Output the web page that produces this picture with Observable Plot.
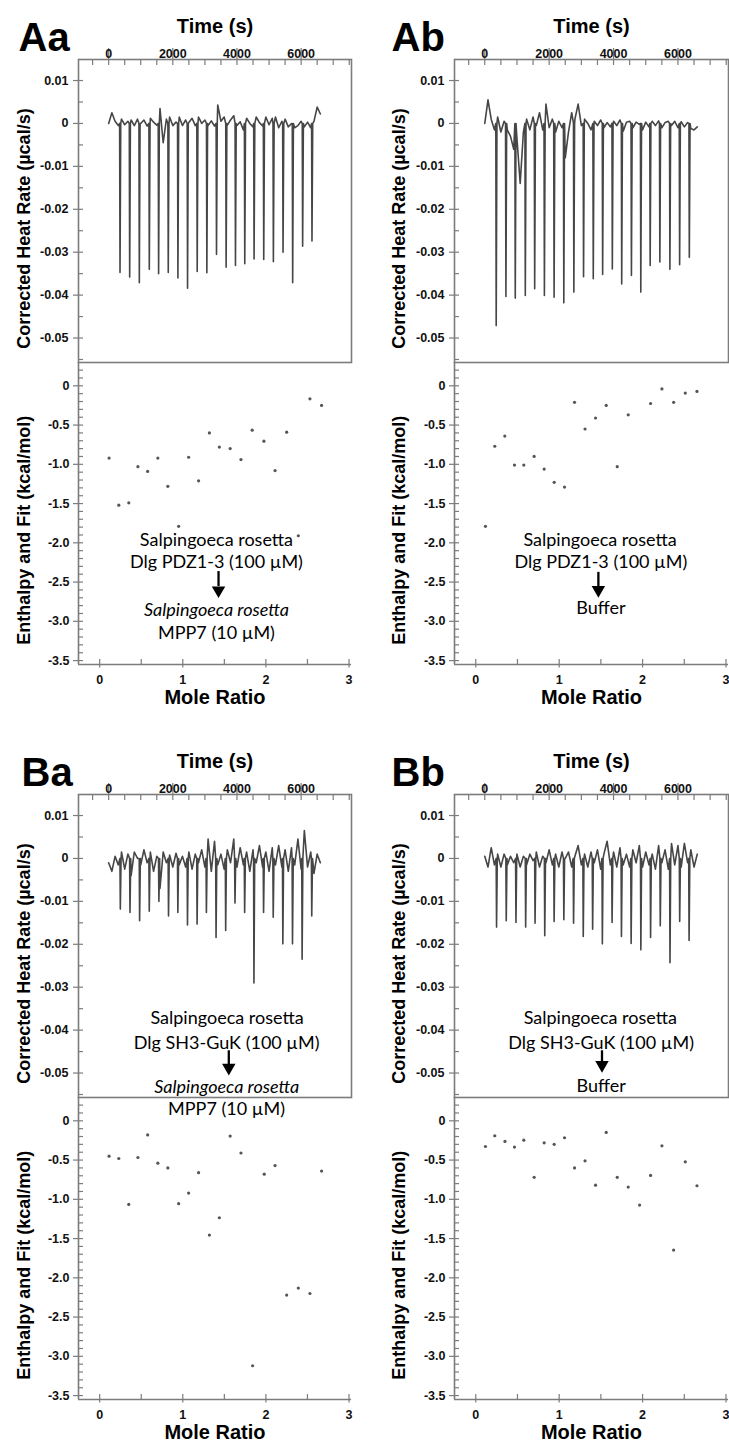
<!DOCTYPE html>
<html><head><meta charset="utf-8">
<script src="https://cdn.jsdelivr.net/npm/d3@7"></script>
<script src="https://cdn.jsdelivr.net/npm/@observablehq/plot@0.6"></script>
<style>
body{margin:0;background:#fff;}
#fig{position:relative;width:729px;height:1443px;overflow:hidden;background:#fff;}
</style></head><body><div id="fig"></div>
<script>
// ---------------- DATA ----------------
const timeTicksMajor = [0, 2000, 4000, 6000];
const timeTicksMinor = [-500,0,500,1000,1500,2000,2500,3000,3500,4000,4500,5000,5500,6000,6500,7000,7500];
const heatTicksMajor = [0.01, 0, -0.01, -0.02, -0.03, -0.04, -0.05];
const heatTicksMinor = [0.01,0.005,0,-0.005,-0.01,-0.015,-0.02,-0.025,-0.03,-0.035,-0.04,-0.045,-0.05,-0.055];
const moleTicksMajor = [0, 1, 2, 3];
const moleTicksMinor = [0, 0.5, 1, 1.5, 2, 2.5, 3];
const dhTicksMajor = [0, -0.5, -1, -1.5, -2, -2.5, -3, -3.5];
const dhTicksMinor = [0.2,0.1,0,-0.1,-0.2,-0.3,-0.4,-0.5,-0.6,-0.7,-0.8,-0.9,-1,-1.1,-1.2,-1.3,-1.4,-1.5,-1.6,-1.7,-1.8,-1.9,-2,-2.1,-2.2,-2.3,-2.4,-2.5,-2.6,-2.7,-2.8,-2.9,-3,-3.1,-3.2,-3.3,-3.4,-3.5];

// raw heat-rate traces: baseline readings every 100 s (x 0.001 µcal/s), injection times (s) and spike minima (µcal/s)
const baseAa = [0,2.5,0.5,-0.5,1,-0.3,0.5,0.8,-0.5,1,0,0.8,-0.6,1.2,0.3,-0.4,3.5,-4.5,1,1.5,-0.5,0.3,1.5,-0.5,0.8,0.2,1.2,-0.5,1.5,0,0.8,-0.5,0.6,-0.6,4.3,0.5,1.5,-0.4,0.8,1.8,-0.5,0.4,-1.5,1.2,0,-0.8,1.5,0.2,-0.6,1.5,-0.3,1.2,1.5,-1,0.5,1,-0.8,0,-1,-0.5,0.5,-0.8,0.3,-1,0.5,3.8,2.2];
const injAa = [342,643,944,1255,1545,1846,2147,2447,2748,3049,3350,3650,3941,4231,4521,4822,5123,5424,5724,6035,6326];
const peakAa = [-0.0347,-0.0358,-0.0371,-0.0340,-0.0350,-0.0347,-0.0360,-0.0384,-0.0345,-0.0348,-0.0305,-0.0335,-0.0331,-0.0327,-0.0316,-0.0317,-0.0322,-0.0300,-0.0371,-0.0286,-0.0274];

const baseAb = [0,5.5,1,-1.5,1.5,-2,0.5,-1.5,-3,-6,-3.5,-14,-2,1,-1.5,1.5,-0.5,2.5,-1.5,4.5,-1,1,-2,0.5,-1,-8,-2,2.5,1,4.5,-0.5,1,0,-1.5,0.5,-0.5,0.8,-1,0.2,-0.8,0.5,-0.5,0.8,-1.8,0.3,0.5,-1,0.3,-0.2,-1.5,0.3,-0.8,0.5,-0.5,0.6,-1,0.2,0.5,-0.5,0.5,-1,0.4,-0.8,0.2,-1.2,-1.5,-0.8];
const injAb = [343,645,935,1247,1538,1840,2141,2443,2755,3056,3358,3649,3950,4241,4543,4834,5125,5426,5738,6040,6341];
const peakAb = [-0.0471,-0.0403,-0.0407,-0.0401,-0.0385,-0.0401,-0.0405,-0.0418,-0.0393,-0.0357,-0.0362,-0.0352,-0.0339,-0.0374,-0.0354,-0.0393,-0.0331,-0.0323,-0.0340,-0.0329,-0.0312];

const baseBa = [-1,-3,0.5,-1.5,1.5,-2.5,1,-4,1.5,0,-1.5,2,-1,1.5,-3,0.5,-7,1.5,-1,0.8,-2,1.2,-1.5,0.5,-2,1.5,-2.5,1,-1,2,-2,4.5,-3,4,-1.5,1,-2.5,2,-1,4.5,-2,2.5,-1.5,1.5,-3,2,-1,3,-2,1.5,-3,2.5,-1.5,3,-2,2,-3,2.5,-1.5,4.5,-2.5,6.5,-2,1.5,-3.5,1,-1];
const injBa = [352,653,953,1254,1554,1854,2145,2445,2745,3035,3336,3636,3926,4227,4517,4817,5118,5418,5719,6019,6319];
const peakBa = [-0.0118,-0.0126,-0.0145,-0.0123,-0.0100,-0.0134,-0.0126,-0.0155,-0.0153,-0.0126,-0.0184,-0.0168,-0.0104,-0.0126,-0.0290,-0.0126,-0.0137,-0.0199,-0.0199,-0.0235,-0.0134];

const baseBb = [0.5,-2,2.5,-1.5,1,-2,1,-1.5,0.5,-1,1,-2,0.5,-1.5,1,-0.5,1.5,-2,0.5,-1,2,-1.5,1,-2,1.5,0,1.5,-2,0.5,3,-1.5,1,-2,1.5,-1,2,-2.5,1,4,-1.5,1.5,-2,2.5,-1.5,1,-2,2,-1,3,-2,1.5,-1.5,1,-2.5,3,-1,2,-2.5,3.5,-1.5,3,-2,3.5,-1,2,-2,1];
const injBb = [354,655,957,1258,1550,1851,2142,2444,2746,3047,3338,3640,3942,4233,4534,4836,5138,5439,5741,6042,6334];
const peakBb = [-0.0160,-0.0145,-0.0149,-0.0160,-0.0151,-0.0180,-0.0147,-0.0143,-0.0151,-0.0182,-0.0165,-0.0199,-0.0149,-0.0182,-0.0198,-0.0213,-0.0184,-0.0157,-0.0243,-0.0147,-0.0191];

// integrated heats vs mole ratio
const moleAa = [0.113,0.23,0.35,0.46,0.577,0.70,0.82,0.95,1.07,1.19,1.32,1.44,1.57,1.70,1.835,1.976,2.11,2.25,2.39,2.53,2.67];
const dhAa = [-0.92,-1.52,-1.49,-1.03,-1.09,-0.92,-1.28,-1.79,-0.91,-1.21,-0.60,-0.78,-0.80,-0.94,-0.565,-0.705,-1.08,-0.59,-1.91,-0.166,-0.25];
const moleAb = [0.116,0.228,0.348,0.464,0.576,0.70,0.82,0.94,1.064,1.184,1.31,1.436,1.564,1.696,1.828,2.096,2.232,2.372,2.512,2.652];
const dhAb = [-1.79,-0.77,-0.64,-1.01,-1.01,-0.90,-1.06,-1.23,-1.29,-0.21,-0.55,-0.41,-0.25,-1.03,-0.37,-0.225,-0.04,-0.21,-0.093,-0.072];
const moleBa = [0.113,0.23,0.35,0.46,0.577,0.70,0.82,0.95,1.07,1.19,1.32,1.44,1.57,1.70,1.84,1.98,2.11,2.25,2.39,2.53,2.67];
const dhBa = [-0.45,-0.48,-1.065,-0.467,-0.18,-0.54,-0.60,-1.056,-0.92,-0.66,-1.455,-1.235,-0.195,-0.41,-3.12,-0.68,-0.57,-2.22,-2.13,-2.20,-0.64];
const moleBb = [0.116,0.228,0.35,0.464,0.576,0.70,0.82,0.94,1.064,1.184,1.31,1.436,1.564,1.696,1.828,1.964,2.096,2.232,2.372,2.512,2.652];
const dhBb = [-0.327,-0.19,-0.263,-0.335,-0.246,-0.72,-0.28,-0.30,-0.216,-0.60,-0.51,-0.82,-0.148,-0.72,-0.844,-1.073,-0.696,-0.318,-1.646,-0.522,-0.827];

// annotation texts
const textsAa = ["Salpingoeca rosetta", "Dlg PDZ1-3 (100 µM)", "Salpingoeca rosetta", "MPP7 (10 µM)"];
const textsAb = ["Salpingoeca rosetta", "Dlg PDZ1-3 (100 µM)", "Buffer"];
const textsBa = ["Salpingoeca rosetta", "Dlg SH3-GuK (100 µM)", "Salpingoeca rosetta", "MPP7 (10 µM)"];
const textsBb = ["Salpingoeca rosetta", "Dlg SH3-GuK (100 µM)", "Buffer"];

// ---------------- LAYOUT / STYLE ----------------
const FONT = "'Liberation Sans', Arial, Helvetica, sans-serif";
const ANN = "Lato, 'Open Sans', sans-serif";
const AX = "#7c7c7c", TRACE = "#464646", DOT = "#555";
const TIME_DOMAIN = [-940, 7570], HEAT_DOMAIN = [-0.0557, 0.0149];
const MOLE_DOMAIN = [-0.255, 3.03], DH_DOMAIN = [-3.55, 0.297];
const TOP_H = 362, BOT_H = 347;

const panels = [
  {id:"Aa", left:0, top:0, width:365, ml:78, fw:273, labDx:-60, ylabDx:-54,
   base:baseAa, inj:injAa, peak:peakAa, mole:moleAa, dh:dhAa, texts:textsAa,
   ann:[{i:0,p:"bot",x:1.405,y:-2.04},{i:1,p:"bot",x:1.405,y:-2.32},{i:2,p:"bot",x:1.405,y:-2.93,it:true},{i:3,p:"bot",x:1.405,y:-3.23}],
   arrow:{p:"bot",x:1.43,y1:-2.36,y2:-2.55,yc:-2.605}},
  {id:"Ab", left:365, top:0, width:364, ml:89, fw:274, labDx:-63, ylabDx:-55,
   base:baseAb, inj:injAb, peak:peakAb, mole:moleAb, dh:dhAb, texts:textsAb,
   ann:[{i:0,p:"bot",x:1.49,y:-2.04},{i:1,p:"bot",x:1.50,y:-2.32},{i:2,p:"bot",x:1.50,y:-2.91}],
   arrow:{p:"bot",x:1.47,y1:-2.37,y2:-2.55,yc:-2.60}},
  {id:"Ba", left:0, top:735, width:365, ml:78, fw:273, labDx:-57, ylabDx:-54,
   base:baseBa, inj:injBa, peak:peakBa, mole:moleBa, dh:dhBa, texts:textsBa,
   ann:[{i:0,p:"top",x:3690,y:-0.0386},{i:1,p:"top",x:3680,y:-0.0443},{i:2,p:"top",x:3680,y:-0.0546,it:true},{i:3,p:"bot",x:1.526,y:0.076}],
   arrow:{p:"top",x:3745,y1:-0.0447,y2:-0.0482,yc:-0.04876}},
  {id:"Bb", left:365, top:735, width:364, ml:89, fw:274, labDx:-63, ylabDx:-55,
   base:baseBb, inj:injBb, peak:peakBb, mole:moleBb, dh:dhBb, texts:textsBb,
   ann:[{i:0,p:"top",x:3588,y:-0.0386},{i:1,p:"top",x:3613,y:-0.0443},{i:2,p:"top",x:3613,y:-0.0545}],
   arrow:{p:"top",x:3641,y1:-0.0447,y2:-0.0477,yc:-0.0481}}
];

function buildTrace(base, inj, peak) {
  const times = d3.range(0, base.length * 100, 100);
  const pts = base.map((v, i) => ({t: times[i], v: v / 1000}));
  inj.forEach((t, i) => {
    pts.push({t: t, v: 0});
    pts.push({t: t + 12, v: peak[i]});
    pts.push({t: t + 35, v: 0});
  });
  return pts.sort((a, b) => a.t - b.t);
}

function annMarks(p, which) {
  const marks = [];
  p.ann.filter(a => a.p === which).forEach(a => {
    marks.push(Plot.text([p.texts[a.i]], {x: [a.x], y: [a.y], text: d => d, textAnchor: "middle", lineAnchor: "bottom",
      fontFamily: ANN, fontSize: 18, fontWeight: "normal", fontStyle: a.it ? "italic" : "normal", fill: "#000"}));
  });
  const ar = p.arrow;
  if (ar.p === which) {
    marks.push(Plot.link([0], {x1: [ar.x], x2: [ar.x], y1: [ar.y1], y2: [ar.y2], stroke: "#000", strokeWidth: 2.3}));
    marks.push(Plot.dot([0], {x: [ar.x], y: [ar.yc], symbol: "triangle", rotate: 180, r: 5, fill: "#000", stroke: null}));
  }
  return marks;
}

const fig = document.getElementById("fig");
const style = {background: "transparent", overflow: "visible", fontFamily: FONT, fontSize: "12.5px", fontWeight: "bold", color: "#111"};
const fmtHeat = d => d === 0 ? "0" : d.toFixed(2);
const fmtDH = d => d === 0 ? "0" : d.toFixed(1);

panels.forEach(p => {
  const mr = p.width - p.ml - p.fw;
  const top = Plot.plot({
    width: p.width, height: TOP_H, marginLeft: p.ml, marginRight: mr, marginTop: 59, marginBottom: 0,
    x: {domain: TIME_DOMAIN}, y: {domain: HEAT_DOMAIN}, style,
    marks: [
      Plot.line(buildTrace(p.base, p.inj, p.peak), {x: "t", y: "v", stroke: TRACE, strokeWidth: 1.6}),
      Plot.frame({stroke: AX, strokeWidth: 1.6}),
      Plot.axisX({anchor: "top", ticks: timeTicksMinor, tickSize: -5, tickFormat: () => "", stroke: AX, strokeWidth: 1.2, label: null}),
      Plot.axisX({anchor: "top", ticks: timeTicksMajor, tickSize: 12, tickPadding: -10, tickFormat: d => String(d), stroke: AX, strokeWidth: 1.2, label: null}),
      Plot.axisY({anchor: "left", ticks: heatTicksMinor, tickSize: -5, tickFormat: () => "", stroke: AX, strokeWidth: 1.2, label: null}),
      Plot.axisY({anchor: "left", ticks: heatTicksMajor, tickSize: 5, tickPadding: 5, tickFormat: fmtHeat, stroke: AX, strokeWidth: 1.2, label: null}),
      Plot.text(["Time (s)"], {frameAnchor: "top", dy: -26.5, lineAnchor: "bottom", text: d => d, fontSize: 20, fontWeight: "bold", fill: "#000"}),
      Plot.text([p.id], {frameAnchor: "top-left", dx: p.labDx, dy: -9, textAnchor: "start", lineAnchor: "bottom", text: d => d, fontSize: 40, fontWeight: "bold", fill: "#000"}),
      Plot.text(["Corrected Heat Rate (µcal/s)"], {frameAnchor: "left", y: [-0.0245], dx: p.ylabDx, rotate: -90, textAnchor: "middle", lineAnchor: "middle", text: d => d, fontSize: 18, fontWeight: "bold", fill: "#000"}),
      ...annMarks(p, "top")
    ]
  });
  const pts = p.mole.map((m, i) => ({m, h: p.dh[i]}));
  const bot = Plot.plot({
    width: p.width, height: BOT_H, marginLeft: p.ml, marginRight: mr, marginTop: 0, marginBottom: 45,
    x: {domain: MOLE_DOMAIN}, y: {domain: DH_DOMAIN}, style,
    marks: [
      Plot.ruleX([MOLE_DOMAIN[0]], {stroke: AX, strokeWidth: 1.6}),
      Plot.ruleY([DH_DOMAIN[0]], {stroke: AX, strokeWidth: 1.6}),
      Plot.axisX({anchor: "bottom", ticks: moleTicksMinor, tickSize: -5, tickFormat: () => "", stroke: AX, strokeWidth: 1.2, label: null}),
      Plot.axisX({anchor: "bottom", ticks: moleTicksMajor, tickSize: 3.5, tickPadding: 7.5, tickFormat: d => String(d), stroke: AX, strokeWidth: 1.2, label: null}),
      Plot.axisY({anchor: "left", ticks: dhTicksMinor, tickSize: -5, tickFormat: () => "", stroke: AX, strokeWidth: 1.2, label: null}),
      Plot.axisY({anchor: "left", ticks: dhTicksMajor, tickSize: 5, tickPadding: 4, tickFormat: fmtDH, stroke: AX, strokeWidth: 1.2, label: null}),
      Plot.dot(pts, {x: "m", y: "h", r: 1.6, fill: DOT, stroke: null}),
      Plot.text(["Mole Ratio"], {frameAnchor: "bottom", dy: 39, lineAnchor: "bottom", text: d => d, fontSize: 20, fontWeight: "bold", fill: "#000"}),
      Plot.text(["Enthalpy and Fit (kcal/mol)"], {frameAnchor: "left", y: [-1.84], dx: p.ylabDx, rotate: -90, textAnchor: "middle", lineAnchor: "middle", text: d => d, fontSize: 18, fontWeight: "bold", fill: "#000"}),
      ...annMarks(p, "bot")
    ]
  });
  [[bot, p.top + TOP_H], [top, p.top]].forEach(([svg, y]) => {
    svg.style.position = "absolute";
    svg.style.left = p.left + "px";
    svg.style.top = y + "px";
    fig.appendChild(svg);
  });
});
</script></body></html>
